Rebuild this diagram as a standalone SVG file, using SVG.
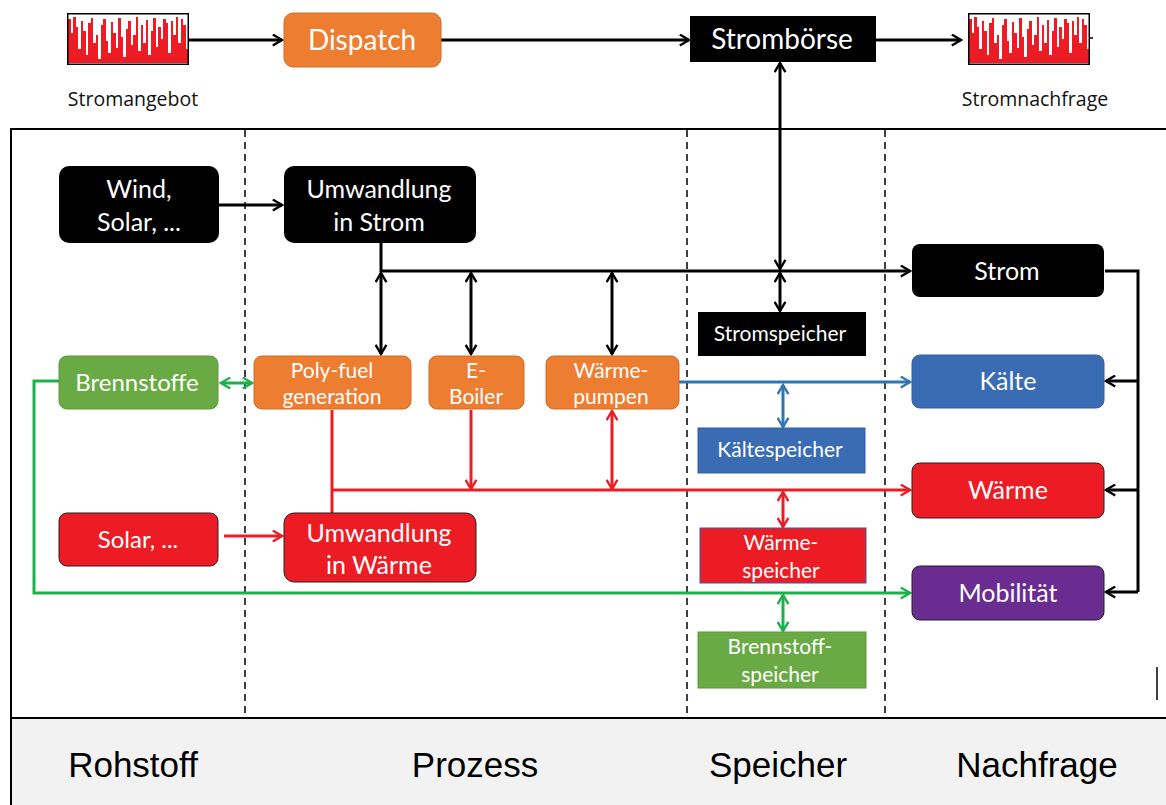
<svg xmlns="http://www.w3.org/2000/svg" width="1166" height="805" viewBox="0 0 1166 805">
<style>
.t{font-family:Lato,"Open Sans",sans-serif;fill:#fff;text-anchor:middle}
.lbl{font-family:"Open Sans",sans-serif;fill:#111;text-anchor:middle;font-size:19.5px}
.col{font-family:"Liberation Sans",Arial,sans-serif;fill:#000;text-anchor:middle;font-size:35px}
.k{stroke:#000;stroke-width:3;fill:none}
.r{stroke:#ed1c24;stroke-width:3;fill:none}
.b{stroke:#2e75b6;stroke-width:3;fill:none}
.g{stroke:#1db14b;stroke-width:3;fill:none}
.dash{stroke:#000;stroke-width:1.5;stroke-dasharray:7,5;fill:none}
</style>
<defs>
<marker id="ak" viewBox="0 0 12 12" refX="10.5" refY="6" markerWidth="13" markerHeight="13" markerUnits="userSpaceOnUse" orient="auto-start-reverse"><path d="M2,1 L10.5,6 L2,11" fill="none" stroke="#000" stroke-width="2.2"/></marker>
<marker id="ar" viewBox="0 0 12 12" refX="10.5" refY="6" markerWidth="13" markerHeight="13" markerUnits="userSpaceOnUse" orient="auto-start-reverse"><path d="M2,1 L10.5,6 L2,11" fill="none" stroke="#ed1c24" stroke-width="2.2"/></marker>
<marker id="ab" viewBox="0 0 12 12" refX="10.5" refY="6" markerWidth="13" markerHeight="13" markerUnits="userSpaceOnUse" orient="auto-start-reverse"><path d="M2,1 L10.5,6 L2,11" fill="none" stroke="#2e75b6" stroke-width="2.2"/></marker>
<marker id="ag" viewBox="0 0 12 12" refX="10.5" refY="6" markerWidth="13" markerHeight="13" markerUnits="userSpaceOnUse" orient="auto-start-reverse"><path d="M2,1 L10.5,6 L2,11" fill="none" stroke="#1db14b" stroke-width="2.2"/></marker>
<symbol id="chart" viewBox="0 0 122 52" width="122" height="52">
<rect x="0" y="0" width="122" height="52" fill="#fff"/>
<path d="M1,50 V6 H4 V20 H6 V4 H9 V14 H11 V36 H14 V8 H16 V18 H19 V42 H21 V10 H24 V5 H26 V30 H29 V22 H31 V46 H34 V12 H36 V6 H39 V28 H41 V40 H44 V9 H46 V20 H49 V35 H51 V5 H54 V24 H56 V44 H59 V16 H61 V8 H64 V32 H66 V22 H69 V4 H71 V38 H74 V12 H76 V30 H79 V7 H81 V42 H84 V18 H86 V5 H89 V34 H91 V14 H94 V26 H96 V6 H99 V10 H101 V40 H104 V8 H106 V22 H109 V4 H111 V30 H114 V6 H116 V12 H119 V36 H121 V50 Z" fill="#ed1c24"/>
<rect x="0.75" y="0.75" width="120.5" height="50.5" fill="none" stroke="#000" stroke-width="1.5"/>
</symbol>
</defs>
<rect x="0" y="0" width="1166" height="805" fill="#fff"/>
<g id="frame">
<rect x="11" y="129" width="1170" height="690" fill="#fff" stroke="#000" stroke-width="2"/>
<rect x="11" y="718" width="1170" height="90" fill="#f2f2f2" stroke="#000" stroke-width="2"/>
<line class="dash" x1="245" y1="130" x2="245" y2="718"/>
<line class="dash" x1="687" y1="130" x2="687" y2="718"/>
<line class="dash" x1="885" y1="130" x2="885" y2="718"/>
<line x1="1157" y1="667" x2="1157" y2="700" stroke="#000" stroke-width="1.5"/>
<text class="col" x="133" y="777">Rohstoff</text>
<text class="col" x="475" y="777">Prozess</text>
<text class="col" x="778" y="777">Speicher</text>
<text class="col" x="1037" y="777">Nachfrage</text>
</g>
<g id="connectors">
<line class="k" x1="189" y1="40" x2="282" y2="40" marker-end="url(#ak)"/>
<line class="k" x1="441" y1="40" x2="689" y2="40" marker-end="url(#ak)"/>
<line class="k" x1="876" y1="40" x2="961" y2="40" marker-end="url(#ak)"/>
<line x1="1088" y1="38" x2="1093" y2="38" stroke="#000" stroke-width="1.5"/>
<line class="k" x1="780" y1="63" x2="780" y2="269" marker-start="url(#ak)" marker-end="url(#ak)"/>
<line class="k" x1="780" y1="273" x2="780" y2="311" marker-start="url(#ak)" marker-end="url(#ak)"/>
<line class="k" x1="219" y1="205" x2="282" y2="205" marker-end="url(#ak)"/>
<polyline class="k" points="381,243 381,271 910,271" marker-end="url(#ak)"/>
<line class="k" x1="381" y1="273" x2="381" y2="354" marker-start="url(#ak)" marker-end="url(#ak)"/>
<line class="k" x1="471" y1="273" x2="471" y2="354" marker-start="url(#ak)" marker-end="url(#ak)"/>
<line class="k" x1="612" y1="273" x2="612" y2="354" marker-start="url(#ak)" marker-end="url(#ak)"/>
<polyline class="k" points="1105,271 1138,271 1138,592"/>
<line class="k" x1="1138" y1="381" x2="1106" y2="381" marker-end="url(#ak)"/>
<line class="k" x1="1138" y1="490" x2="1106" y2="490" marker-end="url(#ak)"/>
<line class="k" x1="1138" y1="592" x2="1106" y2="592" marker-end="url(#ak)"/>
<line class="g" x1="221" y1="383" x2="252" y2="383" marker-start="url(#ag)" marker-end="url(#ag)"/>
<line class="b" x1="679" y1="382" x2="910" y2="382" marker-end="url(#ab)"/>
<line class="b" x1="783" y1="385" x2="783" y2="427" marker-start="url(#ab)" marker-end="url(#ab)"/>
<line class="r" x1="332" y1="410" x2="332" y2="513"/>
<line class="r" x1="332" y1="490" x2="910" y2="490" marker-end="url(#ar)"/>
<line class="r" x1="471" y1="410" x2="471" y2="489" marker-end="url(#ar)"/>
<line class="r" x1="612" y1="411" x2="612" y2="489" marker-start="url(#ar)" marker-end="url(#ar)"/>
<line class="r" x1="783" y1="492" x2="783" y2="527" marker-start="url(#ar)" marker-end="url(#ar)"/>
<line class="r" x1="224" y1="536" x2="282" y2="536" marker-end="url(#ar)"/>
<polyline class="g" points="59,381 34,381 34,593 910,593" marker-end="url(#ag)"/>
<line class="g" x1="783" y1="595" x2="783" y2="631" marker-start="url(#ag)" marker-end="url(#ag)"/>
</g>
<g id="stromangebot">
<use href="#chart" x="67" y="13"/>
<text class="lbl" x="133" y="106">Stromangebot</text>
</g>
<g id="stromnachfrage">
<use href="#chart" x="968" y="13"/>
<text class="lbl" x="1035" y="106">Stromnachfrage</text>
</g>
<g id="dispatch">
<rect x="284" y="13" width="157" height="54" rx="9" fill="#ed7d31" stroke="#d36a20" stroke-width="1"/>
<text class="t" x="362" y="50" font-size="28">Dispatch</text>
</g>
<g id="stromboerse">
<rect x="690" y="16" width="186" height="46" fill="#000"/>
<text class="t" x="782" y="49" font-size="28">Strombörse</text>
</g>
<g id="wind">
<rect x="59" y="166" width="160" height="77" rx="10" fill="#000"/>
<text class="t" x="139" y="198" font-size="25">Wind,</text>
<text class="t" x="139" y="231" font-size="25">Solar, ...</text>
</g>
<g id="umw-strom">
<rect x="284" y="166" width="192" height="77" rx="10" fill="#000"/>
<text class="t" x="379" y="198" font-size="25">Umwandlung</text>
<text class="t" x="379" y="231" font-size="25">in Strom</text>
</g>
<g id="strom">
<rect x="912" y="244" width="192" height="53" rx="8" fill="#000"/>
<text class="t" x="1007" y="280" font-size="25">Strom</text>
</g>
<g id="stromspeicher">
<rect x="698" y="312" width="168" height="44" fill="#000"/>
<text class="t" x="780" y="341" font-size="21">Stromspeicher</text>
</g>
<g id="brennstoffe">
<rect x="59" y="356" width="159" height="53" rx="8" fill="#6aaa44" stroke="#5a9a3a" stroke-width="1"/>
<text class="t" x="137" y="391" font-size="24">Brennstoffe</text>
</g>
<g id="polyfuel">
<rect x="254" y="356" width="157" height="53" rx="8" fill="#ed7d31" stroke="#d36a20" stroke-width="1"/>
<text class="t" x="332" y="378" font-size="21">Poly-fuel</text>
<text class="t" x="332" y="404" font-size="21">generation</text>
</g>
<g id="eboiler">
<rect x="429" y="356" width="95" height="53" rx="8" fill="#ed7d31" stroke="#d36a20" stroke-width="1"/>
<text class="t" x="476" y="378" font-size="21">E-</text>
<text class="t" x="476" y="404" font-size="21">Boiler</text>
</g>
<g id="waermepumpen">
<rect x="546" y="356" width="133" height="53" rx="8" fill="#ed7d31" stroke="#d36a20" stroke-width="1"/>
<text class="t" x="611" y="378" font-size="21">Wärme-</text>
<text class="t" x="611" y="404" font-size="21">pumpen</text>
</g>
<g id="kaelte">
<rect x="912" y="355" width="192" height="53" rx="8" fill="#3a6cb4" stroke="#2f5fa5" stroke-width="1"/>
<text class="t" x="1008" y="390" font-size="25">Kälte</text>
</g>
<g id="kaeltespeicher">
<rect x="698" y="428" width="167" height="45" fill="#3a6cb4" stroke="#2f5fa5" stroke-width="1"/>
<text class="t" x="780" y="457" font-size="21">Kältespeicher</text>
</g>
<g id="waerme">
<rect x="912" y="463" width="192" height="55" rx="8" fill="#ed1c24" stroke="#222" stroke-width="1"/>
<text class="t" x="1008" y="499" font-size="25">Wärme</text>
</g>
<g id="waermespeicher">
<rect x="700" y="528" width="166" height="55" fill="#ed1c24" stroke="#2f5fa5" stroke-width="1"/>
<text class="t" x="781" y="550" font-size="21">Wärme-</text>
<text class="t" x="781" y="578" font-size="21">speicher</text>
</g>
<g id="solar-w">
<rect x="59" y="513" width="159" height="53" rx="8" fill="#ed1c24" stroke="#222" stroke-width="1"/>
<text class="t" x="138" y="548" font-size="24">Solar, ...</text>
</g>
<g id="umw-waerme">
<rect x="284" y="513" width="192" height="69" rx="10" fill="#ed1c24" stroke="#222" stroke-width="1"/>
<text class="t" x="379" y="542" font-size="25">Umwandlung</text>
<text class="t" x="379" y="574" font-size="25">in Wärme</text>
</g>
<g id="mobilitaet">
<rect x="912" y="566" width="192" height="54" rx="8" fill="#6a2c91" stroke="#222" stroke-width="1"/>
<text class="t" x="1008" y="602" font-size="25">Mobilität</text>
</g>
<g id="brennstoffspeicher">
<rect x="698" y="632" width="168" height="56" fill="#6aaa44" stroke="#5a9a3a" stroke-width="1"/>
<text class="t" x="780" y="654" font-size="21">Brennstoff-</text>
<text class="t" x="780" y="682" font-size="21">speicher</text>
</g>
</svg>
